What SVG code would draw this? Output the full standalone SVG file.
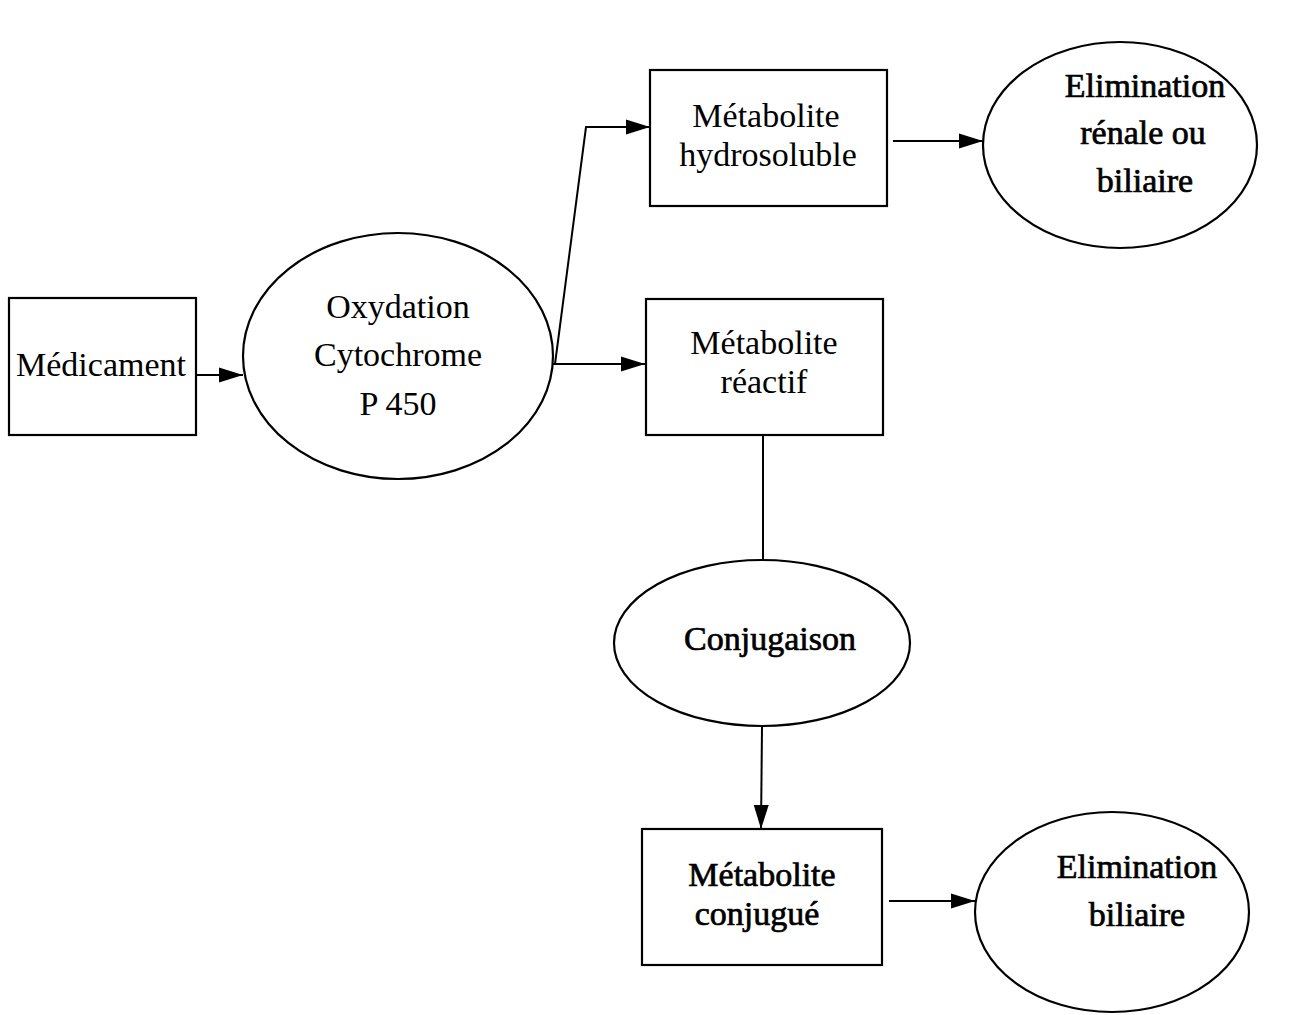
<svg xmlns="http://www.w3.org/2000/svg" width="1303" height="1015" viewBox="0 0 1303 1015">
<style>
.shape{fill:none;stroke:#000;stroke-width:2.2}
.t{font-family:"Liberation Serif","Times New Roman",serif;font-size:34px;fill:#000;text-anchor:middle}
.b{stroke:#000;stroke-width:0.7}
.c{fill:none;stroke:#000;stroke-width:2}
</style>
<defs>
<marker id="ah" markerUnits="userSpaceOnUse" markerWidth="26" markerHeight="18" refX="24" refY="9" orient="auto">
<path d="M0,1.5 L24,9 L0,16.5 Z" fill="#000"/>
</marker>
</defs>
<rect width="1303" height="1015" fill="#fff"/>
<g id="medicament">
<rect class="shape" x="9" y="298" width="187" height="137"/>
<text class="t" x="101" y="376">Médicament</text>
</g>
<g id="oxydation">
<ellipse class="shape" cx="398" cy="356" rx="155" ry="123"/>
<text class="t" x="398" y="318">Oxydation</text>
<text class="t" x="398" y="366">Cytochrome</text>
<text class="t" x="398" y="415">P 450</text>
</g>
<g id="hydrosoluble">
<rect class="shape" x="650" y="70" width="237" height="136"/>
<text class="t" x="766" y="127">Métabolite</text>
<text class="t" x="768" y="166">hydrosoluble</text>
</g>
<g id="elim1">
<ellipse class="shape" cx="1120" cy="145" rx="137" ry="103"/>
<text class="t b" x="1145" y="97">Elimination</text>
<text class="t b" x="1143" y="144">rénale ou</text>
<text class="t b" x="1145" y="192">biliaire</text>
</g>
<g id="reactif">
<rect class="shape" x="646" y="299" width="237" height="136"/>
<text class="t" x="764" y="354">Métabolite</text>
<text class="t" x="764" y="393">réactif</text>
</g>
<g id="conjugaison">
<ellipse class="shape" cx="762" cy="643" rx="148" ry="83"/>
<text class="t b" x="770" y="650">Conjugaison</text>
</g>
<g id="conjugue">
<rect class="shape" x="642" y="829" width="240" height="136"/>
<text class="t b" x="762" y="886">Métabolite</text>
<text class="t b" x="757" y="925">conjugué</text>
</g>
<g id="elim2">
<ellipse class="shape" cx="1112" cy="912" rx="137" ry="100"/>
<text class="t b" x="1137" y="878">Elimination</text>
<text class="t b" x="1137" y="926">biliaire</text>
</g>
<g id="connectors">
<line class="c" x1="196" y1="375" x2="243" y2="375" marker-end="url(#ah)"/>
<polyline class="c" points="555,364 586,127 650,127" marker-end="url(#ah)"/>
<line class="c" x1="553" y1="364" x2="645" y2="364" marker-end="url(#ah)"/>
<line class="c" x1="893" y1="141" x2="983" y2="141" marker-end="url(#ah)"/>
<line class="c" x1="763" y1="435" x2="763" y2="560"/>
<line class="c" x1="762" y1="727" x2="761" y2="829" marker-end="url(#ah)"/>
<line class="c" x1="889" y1="901" x2="975" y2="901" marker-end="url(#ah)"/>
</g>
</svg>
